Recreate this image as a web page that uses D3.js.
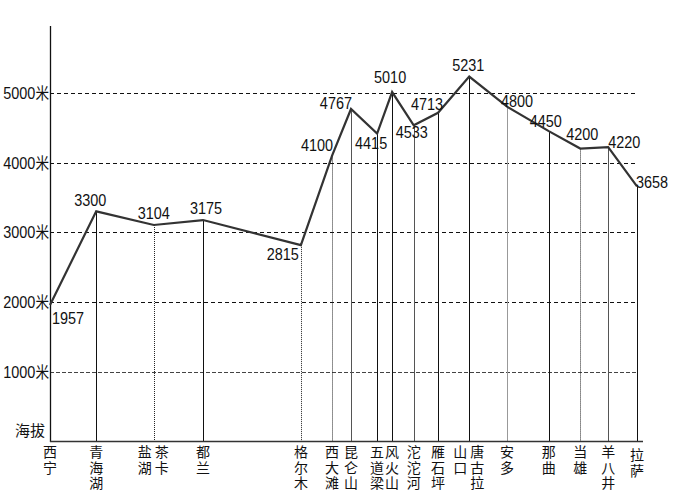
<!DOCTYPE html>
<html><head><meta charset="utf-8">
<script src="https://cdn.jsdelivr.net/npm/d3@7"></script>
<style>
html,body{margin:0;padding:0;background:#fff;}
svg{display:block;}
.num{font-family:"Liberation Sans","Arial",sans-serif;font-size:17px;fill:#111;}
.cjk{font-family:"Noto Sans CJK SC",sans-serif;fill:#111;}
</style></head>
<body>
<svg id="c" width="700" height="496"></svg>
<script>
// ---- data ----
const stations = ["西宁","青海湖","茶卡","都兰","格尔木","西大滩","昆仑山","五道梁","风火山","沱沱河","雁石坪","唐古拉山口","安多","那曲","当雄","羊八井","拉萨"];
const mileage  = [0,154,346,510,836,940,1003,1090,1140,1212,1293,1397,1523,1662,1767,1860,1956];
const altitude = [1957,3300,3104,3175,2815,4100,4767,4415,5010,4533,4713,5231,4800,4450,4200,4220,3658];
const stationLabelColumns = [["西宁"],["青海湖"],["盐湖","茶卡"],["都兰"],["格尔木"],["西大滩"],["昆仑山"],["五道梁"],["风火山"],["沱沱河"],["雁石坪"],["山口","唐古拉"],["安多"],["那曲"],["当雄"],["羊八井"],["拉萨"]];
const yTicks = [1000,2000,3000,4000,5000];
const yTickLabels = ["1000米","2000米","3000米","4000米","5000米"];
const yAxisTitle = "海拔";

// ---- styling (not data) ----
const dropStyle = ["solid","solid","dot","solid","dot","dot","gray","solid","solid","gray","solid","solid","light","solid","dot","gray","solid"];
const valueLabelPlace = [
  ["start",2,19],["middle",-6,-5],["middle",0,-6],["middle",3,-6],["end",-2,15],
  ["end",1,-5],["end",1,0],["middle",-6,15],["middle",-2,-9],["middle",-2,13],
  ["middle",-11,-3],["middle",-1,-6],["middle",10,0],["middle",-3,-4],["middle",2,-9],
  ["start",0,1],["start",-1,2]
];
const SX = 0.85; // horizontal condensing of numeric font

const svg = d3.select("#c");
const x = d3.scaleLinear().domain([0,1956]).range([50,637]);
const y = d3.scaleLinear().domain([0,6000]).range([441.5,23]);
const axisRight = x(1976);

function condensed(parent, px, py, anchor){
  return parent.append("text").attr("class","num")
    .attr("transform",`translate(${px},${py}) scale(${SX},1)`)
    .attr("text-anchor",anchor);
}

// gridlines
svg.append("g").selectAll("line").data(yTicks).join("line")
  .attr("x1",50).attr("x2",638)
  .attr("y1",d=>Math.round(y(d))+0.5).attr("y2",d=>Math.round(y(d))+0.5)
  .attr("stroke",d=>d===1000?"#444":"#111").attr("stroke-width",1)
  .attr("stroke-dasharray",d=>d===1000?"4,2":"4,3");

// y tick labels
const yl = svg.append("g");
yTicks.forEach((t,i)=>{
  const txt = condensed(yl, 49, Math.round(y(t))+6, "end");
  txt.append("tspan").text(yTickLabels[i].replace("米",""));
  txt.append("tspan").attr("class","cjk").style("font-size","16px").text("米");
});
svg.append("text").attr("class","cjk").style("font-size","15px")
  .attr("x",15).attr("y",436).text(yAxisTitle);

// drop lines
const styleMap = {
  solid:{c:"#111",d:null,w:1},
  dot:{c:"#222",d:"1,1",w:1},
  gray:{c:"#555",d:null,w:1},
  light:{c:"#999",d:null,w:1}
};
svg.append("g").selectAll("line").data(stations.map((s,i)=>i).slice(1)).join("line")
  .attr("x1",i=>Math.round(x(mileage[i]))+0.5).attr("x2",i=>Math.round(x(mileage[i]))+0.5)
  .attr("y1",i=>y(altitude[i])).attr("y2",441)
  .attr("stroke",i=>styleMap[dropStyle[i]].c)
  .attr("stroke-width",i=>styleMap[dropStyle[i]].w)
  .attr("stroke-dasharray",i=>styleMap[dropStyle[i]].d);

// axes
svg.append("line").attr("x1",50.5).attr("x2",50.5).attr("y1",26).attr("y2",442).attr("stroke","#111").attr("stroke-width",1.3);
svg.append("line").attr("x1",50).attr("x2",axisRight).attr("y1",441.5).attr("y2",441.5).attr("stroke","#333").attr("stroke-width",1.6);

// profile line
const line = d3.line().x((d,i)=>x(mileage[i])).y(d=>y(d));
svg.append("path").datum(altitude).attr("d",line)
  .attr("fill","none").attr("stroke","#333").attr("stroke-width",2.2).attr("stroke-linejoin","miter");

// value labels
const vl = svg.append("g");
altitude.forEach((d,i)=>{
  const p = valueLabelPlace[i];
  condensed(vl, x(mileage[i])+p[1], y(d)+p[2], p[0]).text(d);
});

// station labels (vertical columns)
const sl = svg.append("g");
stationLabelColumns.forEach((cols,i)=>{
  const cx = x(mileage[i]);
  const offs = cols.length===2 ? [-9,8] : [0];
  cols.forEach((col,k)=>{
    sl.append("text").attr("class","cjk")
      .style("font-size","14px")
      .style("writing-mode","vertical-rl")
      .style("text-orientation","upright")
      .style("letter-spacing","1.5px")
      .attr("x",cx+offs[k])
      .attr("y",445+(i===stations.length-1?3:0))
      .text(col);
  });
});
</script>
</body></html>
